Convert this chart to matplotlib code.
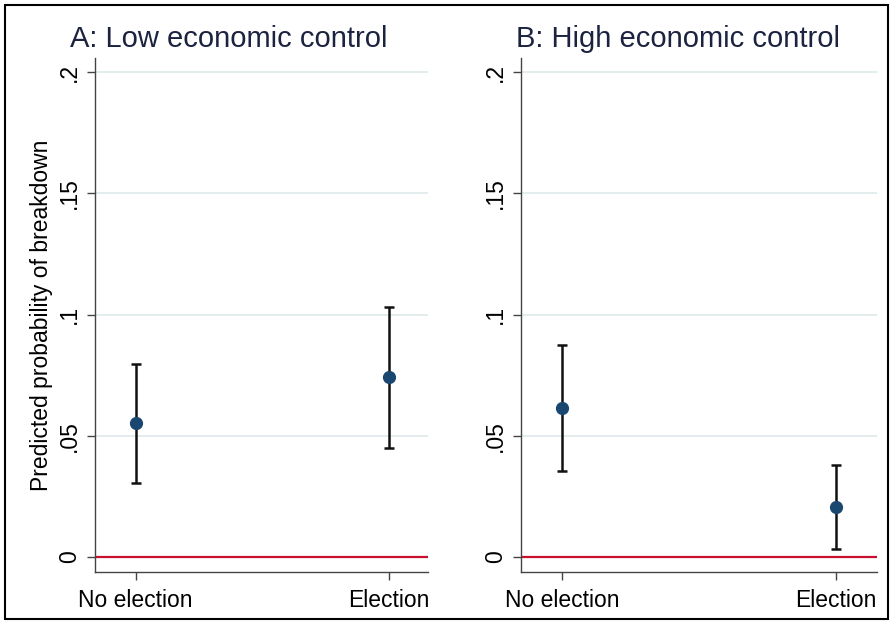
import matplotlib.pyplot as plt
from matplotlib.patches import Rectangle

plt.rcParams['font.family'] = ['Liberation Sans', 'DejaVu Sans']

categories = ['No election', 'Election']
panel_titles = ['A: Low economic control', 'B: High economic control']
# predicted probabilities with lower/upper confidence bounds
low_est = [0.0554, 0.0741]
low_lo = [0.0306, 0.0448]
low_hi = [0.0797, 0.1031]
high_est = [0.0613, 0.0206]
high_lo = [0.0353, 0.0032]
high_hi = [0.0876, 0.0378]
yticks = [0, 0.05, 0.1, 0.15, 0.2]
ytick_labels = ['0', '.05', '.1', '.15', '.2']

fig = plt.figure(figsize=(8.93, 6.24), dpi=100)
fig.patches.append(Rectangle((0.006, 0.008), 0.988, 0.984, transform=fig.transFigure,
                             fill=False, edgecolor='black', linewidth=1.5))

axes = [fig.add_axes([0.1064, 0.0833, 0.3729, 0.8237]),
        fig.add_axes([0.5834, 0.0833, 0.3986, 0.8237])]
panels = [(low_est, low_lo, low_hi), (high_est, high_lo, high_hi)]
xlims = [(-0.16, 1.155), (-0.15, 1.15)]
title_x = [0.402, 0.441]

for i, ax in enumerate(axes):
    est, lo, hi = panels[i]
    x = list(range(len(categories)))
    yerr = [[e - l for e, l in zip(est, lo)], [h - e for e, h in zip(est, hi)]]
    for y in yticks[1:]:
        ax.axhline(y, color='#e2ecec', linewidth=1.3, zorder=0)
    ax.axhline(0, color='#c8102e', linewidth=1.6, zorder=1)
    ax.errorbar(x, est, yerr=yerr, fmt='o', color='#1a476f', markersize=8.5,
                ecolor='#111111', elinewidth=1.8, capsize=3.6, capthick=1.8, zorder=3)
    ax.set_xlim(*xlims[i])
    ax.set_ylim(-0.0062, 0.2058)
    ax.set_xticks(x)
    ax.set_xticklabels(categories, fontsize=16.5)
    ax.set_yticks(yticks)
    ax.set_yticklabels(ytick_labels, fontsize=16.5, rotation=90, va='center')
    for s in ['top', 'right']:
        ax.spines[s].set_visible(False)
    for s in ['left', 'bottom']:
        ax.spines[s].set_color('#444444')
        ax.spines[s].set_linewidth(1.0)
    ax.tick_params(axis='both', length=6, width=1.0, color='#444444', pad=4)
    ax.tick_params(axis='x', pad=6)
    ax.set_title(panel_titles[i], fontsize=21, color='#1c2340', pad=8, x=title_x[i])

axes[0].set_ylabel('Predicted probability of breakdown', fontsize=16.5, labelpad=4)

fig.savefig('out.png', dpi=100)
